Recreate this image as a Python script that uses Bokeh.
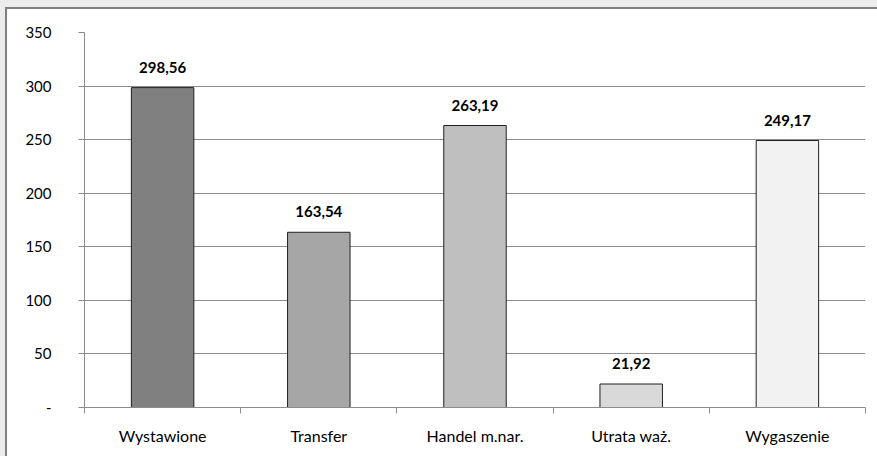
from bokeh.plotting import figure
from bokeh.models import ColumnDataSource, LabelSet, FixedTicker, Range1d
from bokeh.core.properties import value
from bokeh.embed import file_html
from bokeh.resources import INLINE
import numpy as np

categories = ["Wystawione", "Transfer", "Handel m.nar.", "Utrata waż.", "Wygaszenie"]
values = [298.56, 163.54, 263.19, 21.92, 249.17]
bar_colors = ["#808080", "#a6a6a6", "#bfbfbf", "#d9d9d9", "#f2f2f2"]
y_ticks = [0, 50, 100, 150, 200, 250, 300, 350]
y_tick_labels = ["-", "50", "100", "150", "200", "250", "300", "350"]

xpos = np.arange(len(categories)) + 0.5
labels = [f"{v:.2f}".replace(".", ",") for v in values]
src = ColumnDataSource(dict(x=xpos, top=values, color=bar_colors, label=labels))

FONT = "Lato"
p = figure(width=880, height=456, output_backend="svg", toolbar_location=None,
           x_range=Range1d(0, len(categories)), y_range=Range1d(0, 350),
           min_border_left=77, min_border_right=22, min_border_top=23, min_border_bottom=58)
p.outline_line_color = None
p.background_fill_color = "white"
p.border_fill_color = "white"

p.vbar(x="x", top="top", width=0.40, bottom=0, source=src, fill_color="color",
       line_color="#202020", line_width=1)

p.add_layout(LabelSet(x="x", y="top", text="label", source=src, y_offset=15,
                      text_align="center", text_baseline="bottom",
                      text_font=value(FONT), text_font_style="bold", text_font_size="15px",
                      text_color="#000000"))

# y axis
p.yaxis.ticker = FixedTicker(ticks=y_ticks, minor_ticks=[])
p.yaxis.major_label_overrides = {t: l for t, l in zip(y_ticks, y_tick_labels)}
p.yaxis.axis_line_color = "#8c8c8c"
p.yaxis.major_tick_line_color = "#8c8c8c"
p.yaxis.major_tick_out = 6
p.yaxis.major_tick_in = 0
p.yaxis.minor_tick_line_color = None
p.yaxis.major_label_standoff = 27
p.yaxis.major_label_text_font = FONT
p.yaxis.major_label_text_font_size = "15px"
p.yaxis.major_label_text_color = "#000000"

# x axis
p.xaxis.ticker = FixedTicker(ticks=list(xpos), minor_ticks=list(range(len(categories) + 1)))
p.xaxis.major_label_overrides = {float(x): c for x, c in zip(xpos, categories)}
p.xaxis.axis_line_color = "#8c8c8c"
p.xaxis.major_tick_line_color = None
p.xaxis.major_tick_out = 6
p.xaxis.minor_tick_line_color = "#8c8c8c"
p.xaxis.minor_tick_out = 6
p.xaxis.minor_tick_in = 0
p.xaxis.major_label_standoff = 12
p.xaxis.major_label_text_font = FONT
p.xaxis.major_label_text_font_size = "16px"
p.xaxis.major_label_text_color = "#000000"

p.xgrid.grid_line_color = None
p.ygrid.ticker = FixedTicker(ticks=y_ticks)
p.ygrid.grid_line_color = "#8c8c8c"
p.ygrid.grid_line_width = 1

html = file_html(p, INLINE)
css = ("<style>html{background:#ececec;overflow:hidden;margin:0;padding:0;}"
       "body{margin:0;padding:0;position:absolute;left:5px;top:7px;right:0;bottom:0;"
       "background:white;border-left:2px solid #808080;border-top:2px solid #808080;"
       "overflow:hidden;}</style></head>")
html = html.replace("</head>", css, 1)
open("out.html", "w").write(html)
